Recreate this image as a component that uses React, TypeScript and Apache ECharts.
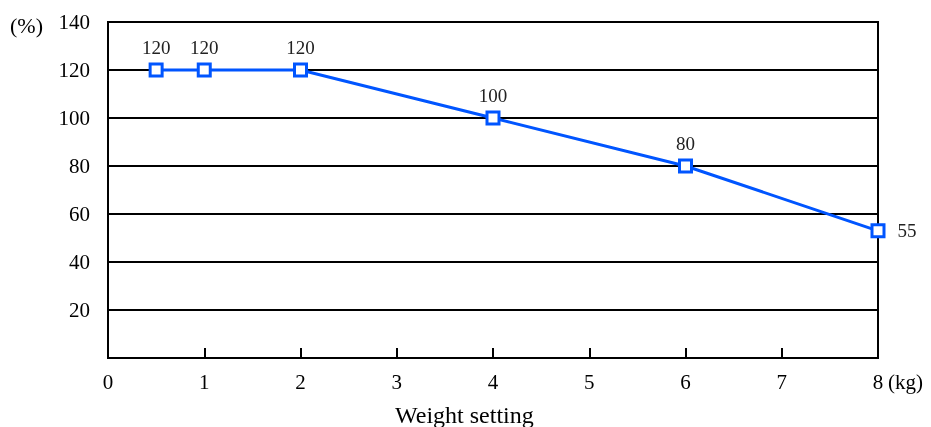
import React, { useEffect, useRef } from "react";
import * as echarts from "echarts";

const weights = [0.5, 1, 2, 4, 6, 8];
const percentValues = [120, 120, 120, 100, 80, 53];
const pointLabels = ["120", "120", "120", "100", "80", "55"];
const xTicks = [0, 1, 2, 3, 4, 5, 6, 7, 8];
const yTicks = [20, 40, 60, 80, 100, 120, 140];

const FONT = "Liberation Serif";
const BLUE = "#0055ff";

export default function App() {
  const ref = useRef<HTMLDivElement>(null);
  useEffect(() => {
    if (!ref.current) return;
    const chart = echarts.init(ref.current, undefined, { renderer: "svg" });
    const data = weights.map((w, i) => ({
      value: [w, percentValues[i]],
      label: {
        position: i === weights.length - 1 ? "right" : "top",
        distance: i === weights.length - 1 ? 12 : 6,
      },
    }));
    chart.setOption({
      animation: false,
      textStyle: { fontFamily: FONT },
      grid: {
        left: 108,
        right: 53,
        top: 22,
        bottom: 69,
        show: true,
        borderColor: "#000",
        borderWidth: 2,
        backgroundColor: "transparent",
      },
      xAxis: {
        type: "value",
        min: 0,
        max: 8,
        interval: 1,
        axisLine: { show: true, lineStyle: { color: "#000", width: 2 } },
        axisTick: { show: true, inside: true, length: 10, lineStyle: { color: "#000", width: 2 } },
        splitLine: { show: false },
        axisLabel: {
          color: "#000",
          fontFamily: FONT,
          fontSize: 21,
          margin: 13,
          formatter: (v: number) => (xTicks.includes(v) ? String(v) : ""),
        },
      },
      yAxis: {
        type: "value",
        min: 0,
        max: 140,
        interval: 20,
        axisLine: { show: true, lineStyle: { color: "#000", width: 2 } },
        axisTick: { show: false },
        splitLine: { show: true, lineStyle: { color: "#000", width: 2 } },
        axisLabel: {
          color: "#000",
          fontFamily: FONT,
          fontSize: 21,
          margin: 18,
          formatter: (v: number) => (yTicks.includes(v) ? String(v) : ""),
        },
      },
      series: [
        {
          type: "line",
          data,
          symbol: "rect",
          symbolSize: 12,
          itemStyle: { color: "#fff", borderColor: BLUE, borderWidth: 3 },
          lineStyle: { color: BLUE, width: 3 },
          label: {
            show: true,
            color: "#222",
            fontFamily: FONT,
            fontSize: 19,
            formatter: (p: any) => pointLabels[p.dataIndex],
          },
        },
      ],
      graphic: [
        {
          type: "text",
          left: 10,
          top: 14,
          style: { text: "(%)", fontFamily: FONT, fontSize: 22, fill: "#000" },
        },
        {
          type: "text",
          left: 888,
          top: 371,
          style: { text: "(kg)", fontFamily: FONT, fontSize: 21, fill: "#000" },
        },
        {
          type: "text",
          left: 395,
          top: 403,
          style: { text: "Weight setting", fontFamily: FONT, fontSize: 24, fill: "#000" },
        },
      ],
    });
    return () => chart.dispose();
  }, []);
  return (
    <div
      ref={ref}
      style={{ position: "fixed", left: 0, top: 0, width: 931, height: 427 }}
    />
  );
}
